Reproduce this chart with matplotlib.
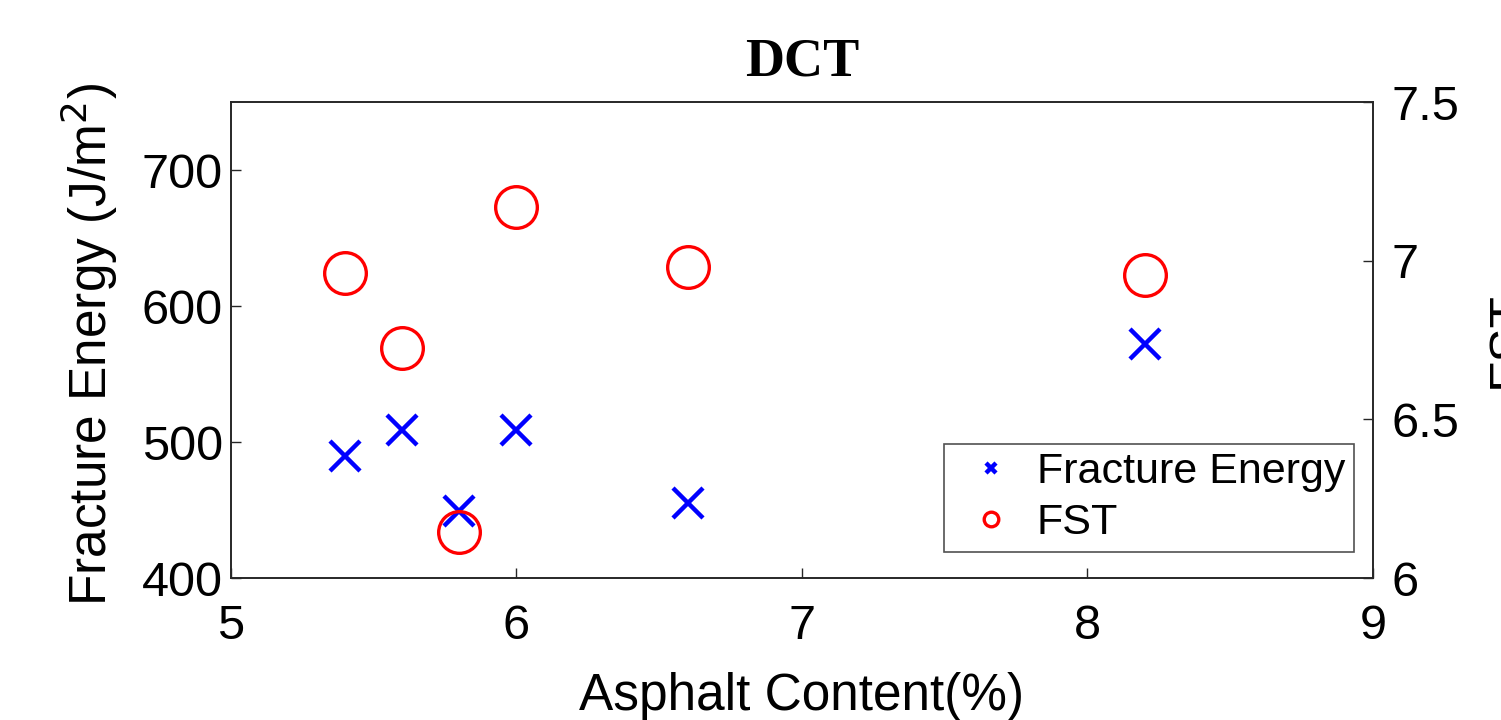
import matplotlib
matplotlib.use("Agg")
import matplotlib.pyplot as plt

# ─── Data ─────────────────────────────────────────────────────────────────────
asphalt_content = [5.4, 5.6, 5.8, 6.0, 6.6, 8.2]
fracture_energy = [490, 509, 449, 509, 455, 572]
fst = [6.96, 6.725, 6.145, 7.17, 6.98, 6.955]

x_ticks = [5, 6, 7, 8, 9]
left_ticks = [400, 500, 600, 700]
right_ticks = [6, 6.5, 7, 7.5]
right_tick_labels = ["6", "6.5", "7", "7.5"]

plt.rcParams["font.family"] = ["Liberation Sans", "DejaVu Sans"]

fig = plt.figure(figsize=(15.01, 7.2), dpi=100, facecolor="white")
ax = fig.add_axes([0.1539, 0.1972, 0.7608, 0.6611])
ax2 = ax.twinx()

h1, = ax.plot(asphalt_content, fracture_energy, "x", color="#0000ff",
              ms=21, mew=3.2, linestyle="none", label="Fracture Energy")
h2, = ax2.plot(asphalt_content, fst, "o", color="#ff0000", mfc="none",
               ms=30, mew=2.4, linestyle="none", label="FST")

ax.set_xlim(5, 9)
ax.set_ylim(400, 750)
ax2.set_ylim(6, 7.5)
ax.set_xticks(x_ticks)
ax.set_yticks(left_ticks)
ax2.set_yticks(right_ticks)
ax2.set_yticklabels(right_tick_labels)

for a in (ax, ax2):
    a.tick_params(direction="in", length=7, width=1.0, labelsize=35, color="#262626")
    for s in a.spines.values():
        s.set_linewidth(1.2)
        s.set_color("#262626")
ax.tick_params(axis="x", pad=19)
ax.tick_params(axis="y", pad=6, right=False)
ax2.tick_params(axis="y", pad=13)

ax.set_xlabel("Asphalt Content(%)", fontsize=37)
ax.xaxis.set_label_coords(0.5, -0.198)
ax.set_ylabel("Fracture Energy (J/m$^2$)", fontsize=37)
ax.yaxis.set_label_coords(-0.097, 0.49)
ax2.set_ylabel("FST", fontsize=37)
ax2.yaxis.set_label_coords(1.098, 0.5)

ax.set_title("DCT", fontsize=39, fontweight="bold",
             fontfamily=["Liberation Serif", "DejaVu Serif"], pad=19)

leg = ax2.legend([h1, h2], ["Fracture Energy", "FST"], loc="lower right",
                 bbox_to_anchor=(0.983, 0.055), borderaxespad=0, fontsize=31,
                 markerscale=0.35, frameon=True, fancybox=False, edgecolor="#262626",
                 handlelength=1.8, handletextpad=0.15, borderpad=0.2, labelspacing=0.25)
leg.get_frame().set_linewidth(1.2)

fig.savefig("out.png", dpi=100, facecolor="white")
